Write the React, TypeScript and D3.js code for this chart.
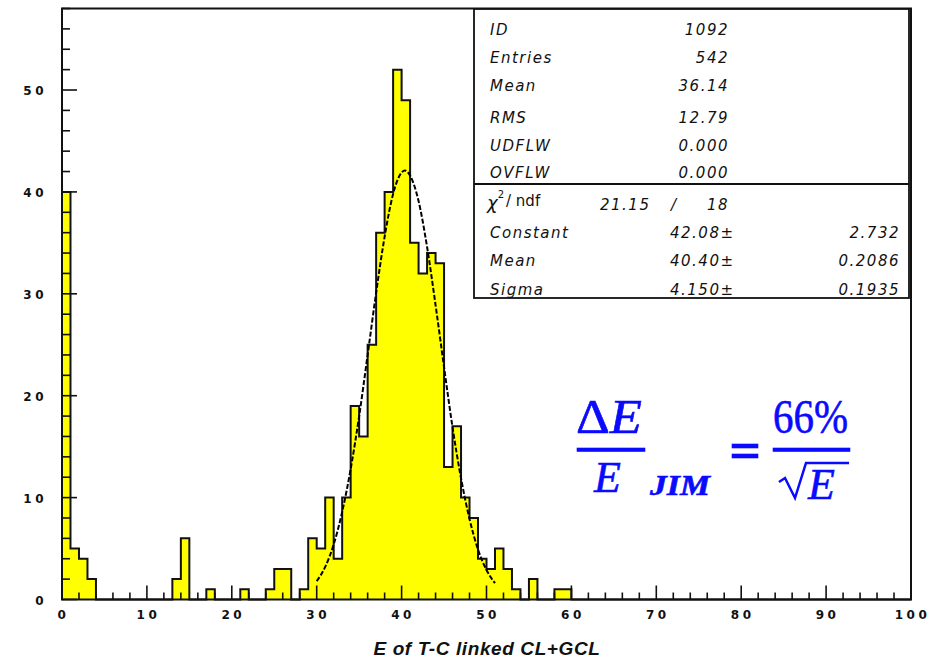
import { useEffect, useRef } from 'react'
import * as d3 from 'd3'

const W = 934
const H = 661

// counts per 1-unit bin, E from 0 to 100
const binCounts = [
  40, 5, 4, 2, 0, 0, 0, 0, 0, 0,
  0, 0, 0, 2, 6, 0, 0, 1, 0, 0,
  0, 1, 0, 0, 1, 3, 3, 0, 1, 6,
  5, 10, 4, 10, 19, 16, 25, 36, 40, 52,
  49, 35, 32, 34, 33, 13, 17, 10, 8, 4,
  3, 5, 3, 1, 0, 2, 0, 0, 1, 1,
  0, 0, 0, 0, 0, 0, 0, 0, 0, 0,
  0, 0, 0, 0, 0, 0, 0, 0, 0, 0,
  0, 0, 0, 0, 0, 0, 0, 0, 0, 0,
  0, 0, 0, 0, 0, 0, 0, 0, 0, 0,
]

// gaussian fit curve
const fitX = [30, 31, 32, 33, 34, 35, 36, 37, 38, 39, 40, 40.4, 41, 42, 43, 44, 45, 46, 47, 48, 49, 50, 51]
const fitY = [1.8, 3.2, 5.4, 8.6, 12.8, 18.0, 24.0, 30.1, 35.6, 39.8, 41.9, 42.1, 41.6, 39.1, 34.6, 28.9, 22.8, 16.9, 11.9, 7.9, 4.9, 2.9, 1.6]

const xTickLabels = [0, 10, 20, 30, 40, 50, 60, 70, 80, 90, 100]
const yTickLabels = [0, 10, 20, 30, 40, 50]

const statLabels = ['ID', 'Entries', 'Mean', 'RMS', 'UDFLW', 'OVFLW']
const statValues = ['1092', '542', '36.14', '12.79', '0.000', '0.000']
const chi2 = '21.15'
const ndf = '18'
const fitLabels = ['Constant', 'Mean', 'Sigma']
const fitValues = ['42.08', '40.40', '4.150']
const fitErrors = ['2.732', '0.2086', '0.1935']

const xTitle = 'E of T-C linked CL+GCL'

const BLUE = '#0a0aff'

export default function App() {
  const svgRef = useRef<SVGSVGElement>(null)

  useEffect(() => {
    const svg = svgRef.current
    if (!svg) return
    const sel = d3.select(svg)
    sel.selectAll('*').remove()

    const x = d3.scaleLinear().domain([0, 100]).range([62, 911])
    const y = d3.scaleLinear().domain([0, 58]).range([599.5, 8.5])

    sel.append('rect').attr('width', W).attr('height', H).attr('fill', '#fff')

    // histogram
    const steps = binCounts.map((v, i) => ({ e: i, v })).concat([{ e: 100, v: 0 }])
    const area = d3.area<{ e: number; v: number }>()
      .x(d => x(d.e)).y0(y(0)).y1(d => y(d.v)).curve(d3.curveStepAfter)
    const line = d3.line<{ e: number; v: number }>()
      .x(d => x(d.e)).y(d => y(d.v)).curve(d3.curveStepAfter)
    sel.append('path').datum(steps).attr('fill', '#ffff00').attr('d', area)
    sel.append('path').datum(steps)
      .attr('fill', 'none').attr('stroke', '#111').attr('stroke-width', 2).attr('d', line)

    // fit curve
    const fitPts = fitX.map((e, i) => ({ e, v: fitY[i] }))
    const fitLine = d3.line<{ e: number; v: number }>()
      .x(d => x(d.e)).y(d => y(d.v)).curve(d3.curveMonotoneX)
    sel.append('path').datum(fitPts)
      .attr('fill', 'none').attr('stroke', '#000').attr('stroke-width', 2)
      .attr('stroke-dasharray', '5,2').attr('d', fitLine)

    // ticks (drawn inward)
    const tk = sel.append('g').attr('stroke', '#111').attr('stroke-width', 1.6)
    d3.range(0, 101, 2).forEach(t => {
      const len = t % 10 === 0 ? 14 : 7
      tk.append('line').attr('x1', x(t)).attr('x2', x(t)).attr('y1', y(0)).attr('y2', y(0) - len)
    })
    d3.range(0, 59, 2).forEach(t => {
      const len = t % 10 === 0 ? 15 : 8
      tk.append('line').attr('x1', x(0)).attr('x2', x(0) + len).attr('y1', y(t)).attr('y2', y(t))
    })

    // frame
    sel.append('rect')
      .attr('x', x(0)).attr('y', y(58)).attr('width', x(100) - x(0)).attr('height', y(0) - y(58))
      .attr('fill', 'none').attr('stroke', '#111').attr('stroke-width', 2)

    // tick labels
    const lab = sel.append('g')
      .attr('font-family', 'DejaVu Sans').attr('font-weight', 'bold').attr('font-size', 12)
      .attr('fill', '#111').style('letter-spacing', '3.5px')
    xTickLabels.forEach(t => {
      lab.append('text').attr('x', x(t) + 1.5).attr('y', 619)
        .attr('text-anchor', 'middle').text(String(t))
    })
    yTickLabels.forEach(t => {
      lab.append('text').attr('x', 47).attr('y', y(t) + 5)
        .attr('text-anchor', 'end').text(String(t))
    })

    // axis title
    sel.append('text')
      .attr('x', 487).attr('y', 655).attr('text-anchor', 'middle')
      .attr('font-family', 'Liberation Sans').attr('font-weight', 'bold').attr('font-style', 'italic')
      .attr('font-size', 19).style('letter-spacing', '0.6px').attr('fill', '#111')
      .text(xTitle)

    // stats box
    const bx0 = 474, bx1 = 909, by0 = 9, byMid = 184, by1 = 298
    const box = sel.append('g').attr('stroke', '#111').attr('stroke-width', 1.8).attr('fill', 'none')
    box.append('rect').attr('x', bx0).attr('y', by0).attr('width', bx1 - bx0).attr('height', by1 - by0)
      .attr('fill', '#fff')
    box.append('line').attr('x1', bx0).attr('x2', bx1).attr('y1', byMid).attr('y2', byMid)

    const st = sel.append('g')
      .attr('font-family', 'DejaVu Sans').attr('font-style', 'italic').attr('font-size', 15)
      .attr('fill', '#111').style('letter-spacing', '1.5px')
    const statBase = [35, 63, 91, 123, 151, 178]
    statLabels.forEach((l, i) => {
      st.append('text').attr('x', 490).attr('y', statBase[i]).text(l)
      st.append('text').attr('x', 729).attr('y', statBase[i]).attr('text-anchor', 'end').text(statValues[i])
    })

    // chi2 row
    const chiT = st.append('text').attr('x', 487).attr('y', 209).style('letter-spacing', '0px')
    chiT.append('tspan').attr('font-size', 18).text('χ')
    chiT.append('tspan').attr('font-size', 10).attr('font-style', 'normal').attr('dy', -11).text('2')
    chiT.append('tspan').attr('font-style', 'normal').attr('dy', 8).attr('dx', 2).text('/ ndf')
    st.append('text').attr('x', 600).attr('y', 210).text(chi2)
    st.append('text').attr('x', 671).attr('y', 210).text('/')
    st.append('text').attr('x', 729).attr('y', 210).attr('text-anchor', 'end').text(ndf)

    const fitBase = [238, 266, 295]
    fitLabels.forEach((l, i) => {
      st.append('text').attr('x', 490).attr('y', fitBase[i]).text(l)
      st.append('text').attr('x', 670).attr('y', fitBase[i]).text(fitValues[i] + '±')
      st.append('text').attr('x', 900).attr('y', fitBase[i]).attr('text-anchor', 'end').text(fitErrors[i])
    })

    // resolution formula
    const f = sel.append('g').attr('fill', BLUE).attr('font-family', 'Liberation Serif')
      .attr('stroke', BLUE).attr('stroke-width', 0.6)
    f.append('text').attr('x', 576).attr('y', 433).attr('font-size', 48)
      .attr('textLength', 66).attr('lengthAdjust', 'spacingAndGlyphs')
      .html('Δ<tspan font-style="italic">E</tspan>')
    f.append('rect').attr('x', 577).attr('y', 448).attr('width', 68).attr('height', 3.5)
    f.append('text').attr('x', 594).attr('y', 492).attr('font-size', 44).attr('font-style', 'italic').text('E')
    f.append('text').attr('x', 650).attr('y', 495).attr('font-size', 29).attr('font-style', 'italic')
      .attr('font-weight', 'bold').attr('textLength', 60).attr('lengthAdjust', 'spacingAndGlyphs').text('JIM')
    f.append('rect').attr('x', 732).attr('y', 444).attr('width', 26).attr('height', 4)
    f.append('rect').attr('x', 732).attr('y', 454).attr('width', 26).attr('height', 4)
    f.append('text').attr('x', 773).attr('y', 433).attr('font-size', 48)
      .attr('textLength', 75).attr('lengthAdjust', 'spacingAndGlyphs').text('66%')
    f.append('rect').attr('x', 773).attr('y', 448).attr('width', 77).attr('height', 3.5)
    f.append('path')
      .attr('d', 'M779,482 L785,478 L795,498 L806,463 L849,463')
      .attr('fill', 'none').attr('stroke', BLUE).attr('stroke-width', 2.5).attr('stroke-linejoin', 'miter')
    f.append('text').attr('x', 808).attr('y', 499).attr('font-size', 44).attr('font-style', 'italic').text('E')
  }, [])

  return (
    <svg ref={svgRef} width={W} height={H}
      style={{ position: 'absolute', left: 0, top: 0, display: 'block' }} />
  )
}
